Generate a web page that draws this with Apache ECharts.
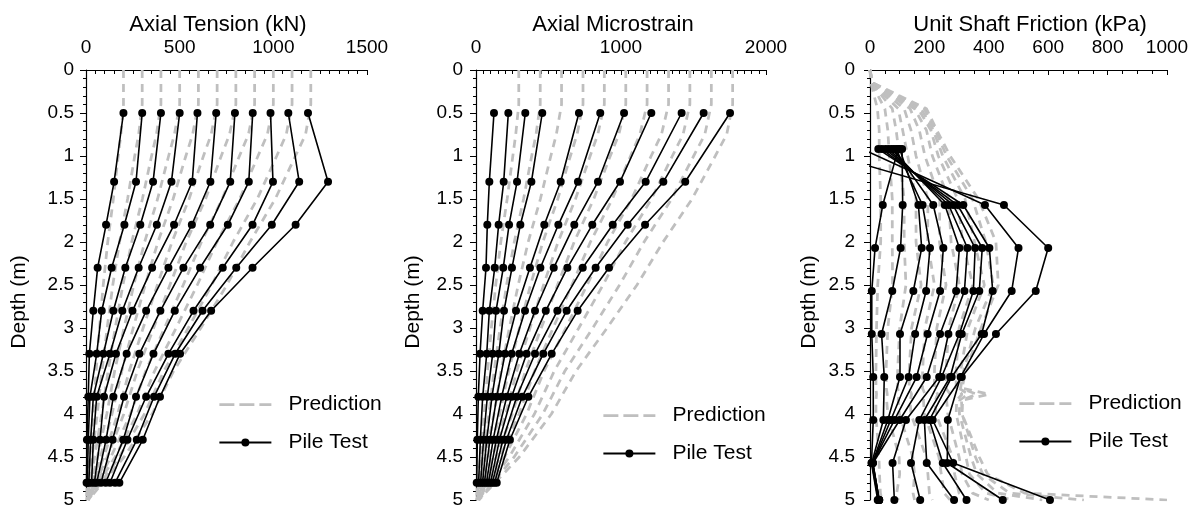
<!DOCTYPE html>
<html>
<head>
<meta charset="utf-8">
<title>Pile test vs prediction</title>
<script src="https://cdn.jsdelivr.net/npm/echarts@6/dist/echarts.min.js"></script>
<style>
  html, body { margin: 0; padding: 0; background: #fff; }
  #chart { width: 1196px; height: 509px; }
</style>
</head>
<body>
<div id="chart"></div>
<script>
// depths (m)
var gaugeDepth = [0.5, 1.3, 1.8, 2.3, 2.8, 3.3, 3.8, 4.3, 4.8];
var frictionDepth = [0.92, 1.57, 2.07, 2.57, 3.07, 3.57, 4.07, 4.57, 5.0];
var predDepth = [0, 0.4, 0.75, 1.0, 1.5, 2.0, 2.5, 3.0, 3.5, 4.0, 4.5, 5.0];
var predFrictionDepth = [0, 0.15, 0.45, 0.7, 1.0, 1.5, 2.0, 2.5, 3.0, 3.5, 3.7, 3.77, 3.84, 4.0, 4.5, 4.7, 4.92, 5.0];

// axial tension (kN), one row per load step
var tensionTest = [
  [200, 150, 107, 62, 39, 18, 12, 5, 3],
  [300, 267, 205, 137, 84, 57, 21, 12, 7],
  [400, 358, 290, 210, 146, 93, 39, 25, 15],
  [500, 456, 378, 281, 194, 128, 57, 39, 30],
  [595, 567, 470, 353, 248, 160, 96, 75, 45],
  [695, 664, 565, 440, 321, 217, 146, 107, 57],
  [795, 770, 663, 520, 397, 285, 203, 142, 80],
  [890, 869, 757, 609, 474, 360, 267, 199, 105],
  [985, 998, 889, 730, 574, 440, 321, 221, 128],
  [1080, 1138, 992, 802, 622, 476, 363, 271, 155],
  [1185, 1292, 1119, 889, 668, 502, 395, 303, 178]
];
var tensionPred = [
  [200, 200, 186, 172, 146, 116, 92, 72, 54, 38, 20, 2],
  [300, 300, 281, 260, 222, 179, 143, 113, 85, 60, 32, 3],
  [400, 400, 376, 350, 301, 244, 197, 156, 118, 84, 46, 4],
  [500, 500, 472, 441, 382, 313, 255, 203, 153, 111, 61, 5],
  [600, 600, 569, 533, 465, 384, 316, 252, 191, 139, 77, 6],
  [700, 700, 668, 627, 550, 459, 381, 305, 231, 169, 95, 8],
  [800, 800, 766, 722, 638, 535, 448, 361, 274, 202, 113, 9],
  [900, 900, 867, 819, 727, 616, 519, 419, 319, 237, 133, 10],
  [1000, 1000, 968, 918, 820, 699, 594, 481, 366, 273, 155, 11],
  [1100, 1100, 1069, 1018, 914, 785, 671, 546, 416, 312, 178, 12],
  [1200, 1200, 1172, 1118, 1010, 875, 752, 613, 468, 353, 203, 13]
];

// axial microstrain
var strainTest = [
  [124, 92, 78, 69, 46, 28, 16, 9, 5],
  [223, 191, 156, 129, 92, 74, 46, 30, 18],
  [340, 283, 228, 188, 138, 115, 78, 52, 32],
  [457, 382, 306, 248, 193, 157, 110, 74, 45],
  [710, 584, 471, 372, 276, 200, 143, 96, 58],
  [857, 703, 568, 444, 338, 246, 177, 118, 72],
  [1021, 841, 678, 536, 407, 299, 212, 140, 85],
  [1209, 993, 802, 630, 481, 349, 246, 162, 100],
  [1418, 1170, 943, 736, 561, 407, 281, 186, 113],
  [1570, 1292, 1046, 825, 625, 464, 319, 210, 128],
  [1752, 1443, 1166, 917, 701, 522, 361, 234, 143]
];
var strainPred = [
  [295, 295, 274, 254, 215, 171, 136, 106, 80, 56, 30, 3],
  [443, 443, 414, 384, 328, 264, 211, 166, 125, 89, 47, 4],
  [590, 590, 554, 516, 444, 360, 291, 230, 173, 124, 67, 6],
  [738, 738, 697, 651, 564, 461, 376, 299, 226, 163, 89, 7],
  [885, 885, 840, 787, 686, 566, 466, 372, 281, 205, 113, 9],
  [1033, 1033, 985, 926, 812, 677, 562, 450, 341, 250, 139, 11],
  [1180, 1180, 1130, 1066, 940, 789, 661, 532, 404, 297, 166, 13],
  [1328, 1328, 1279, 1208, 1073, 908, 766, 619, 470, 349, 197, 15],
  [1475, 1475, 1428, 1354, 1210, 1031, 876, 709, 540, 403, 229, 16],
  [1623, 1623, 1578, 1501, 1349, 1159, 990, 805, 613, 461, 263, 18],
  [1770, 1770, 1729, 1650, 1490, 1290, 1110, 904, 690, 520, 299, 19]
];

// unit shaft friction (kPa)
var frictionTest = [
  [95, 43, 17, 6, 6, 11, 11, 5, 26],
  [108, 110, 103, 75, 39, 48, 45, 6, 28],
  [100, 163, 174, 146, 101, 101, 60, 8, 30],
  [88, 177, 202, 189, 152, 130, 70, 9, 31],
  [80, 213, 247, 236, 194, 157, 82, 9, 31],
  [72, 252, 301, 290, 236, 191, 100, 10, 31],
  [62, 265, 328, 318, 264, 233, 121, 76, 82],
  [52, 280, 354, 348, 301, 241, 166, 138, 169],
  [40, 295, 378, 368, 309, 270, 183, 191, 283],
  [28, 314, 402, 413, 376, 275, 200, 245, 325],
  [-25, 387, 500, 477, 384, 305, 262, 260, 447],
  [-200, 451, 600, 558, 424, 309, 211, 280, 606]
];
var frictionPred = [
  [0, 3, 25, 31, 31, 36, 36, 26, 22, 20, 20, 22, 20, 20, 30, 32, 35, 40],
  [0, 4, 50, 60, 65, 75, 75, 76, 60, 54, 55, 58, 56, 60, 98, 100, 90, 95],
  [0, 5, 75, 88, 99, 115, 115, 121, 100, 93, 93, 98, 95, 99, 144, 150, 145, 150],
  [0, 5, 95, 110, 127, 155, 155, 172, 140, 132, 132, 140, 135, 138, 189, 195, 200, 210],
  [0, 6, 115, 138, 155, 195, 194, 217, 185, 177, 177, 185, 180, 183, 232, 240, 250, 270],
  [0, 6, 135, 166, 185, 235, 234, 256, 225, 217, 217, 228, 220, 222, 278, 285, 300, 330],
  [0, 7, 150, 190, 210, 265, 273, 301, 265, 256, 256, 270, 258, 262, 300, 310, 345, 400],
  [0, 7, 162, 205, 230, 295, 312, 346, 300, 290, 290, 310, 292, 290, 323, 335, 390, 480],
  [0, 8, 172, 213, 245, 320, 352, 385, 330, 305, 300, 330, 302, 301, 340, 360, 430, 580],
  [0, 8, 182, 220, 258, 345, 390, 415, 355, 315, 305, 360, 308, 310, 355, 380, 470, 720],
  [0, 10, 190, 225, 270, 365, 424, 432, 374, 322, 310, 400, 312, 310, 368, 396, 520, 1000]
];

// axis ranges [min, max, label step, minor divisions]
var tensionAxis = [0, 1500, 500, 10];
var strainAxis = [0, 2000, 1000, 20];
var frictionAxis = [0, 1000, 200, 4];
var depthAxis = [0, 5, 0.5, 5];

var titles = ['Axial Tension (kN)', 'Axial Microstrain', 'Unit Shaft Friction (kPa)'];

var FONT = 'Liberation Sans, Arial, sans-serif';
var PRED_GREY = '#bfbfbf';

function pairs(xs, depths) {
  return xs.map(function (v, i) { return [v, depths[i]]; });
}

function predSeries(rows, depths, idx) {
  return rows.map(function (r) {
    return {
      name: 'Prediction', type: 'line', xAxisIndex: idx, yAxisIndex: idx,
      data: pairs(r, depths), symbol: 'none', color: PRED_GREY,
      lineStyle: { color: PRED_GREY, width: 2.75, type: [8, 6] },
      z: 2, silent: true, animation: false
    };
  });
}

function testSeries(rows, depths, idx) {
  return rows.map(function (r) {
    return {
      name: 'Pile Test', type: 'line', xAxisIndex: idx, yAxisIndex: idx,
      data: pairs(r, depths), symbol: 'circle', symbolSize: 8, color: '#000',
      itemStyle: { color: '#000' },
      lineStyle: { color: '#000', width: 1.6 },
      z: 3, silent: true, animation: false
    };
  });
}

function xAxisOf(idx, ax, margin) {
  return {
    gridIndex: idx, type: 'value', position: 'top',
    min: ax[0], max: ax[1], interval: ax[2],
    axisLine: { show: true, onZero: false, lineStyle: { color: '#000', width: 1.2 } },
    axisTick: { show: true, inside: true, length: 5, lineStyle: { color: '#000' } },
    minorTick: { show: true, splitNumber: ax[3], length: 4, lineStyle: { color: '#000' } },
    axisLabel: { color: '#000', fontSize: 19, fontFamily: FONT, margin: margin,
      formatter: function (v) { return String(v); } },
    splitLine: { show: false }
  };
}

function yAxisOf(idx, gap, margin) {
  return {
    gridIndex: idx, type: 'value', inverse: true,
    min: depthAxis[0], max: depthAxis[1], interval: depthAxis[2],
    name: 'Depth (m)', nameLocation: 'middle', nameRotate: 90, nameGap: gap,
    nameTextStyle: { color: '#000', fontSize: 21, fontFamily: FONT, padding: [0, 34, 0, 0] },
    axisLine: { show: true, onZero: false, lineStyle: { color: '#000', width: 1.2 } },
    axisTick: { show: true, length: 6, lineStyle: { color: '#000' } },
    minorTick: { show: true, splitNumber: depthAxis[3], length: 3, lineStyle: { color: '#000' } },
    axisLabel: { color: '#000', fontSize: 19, fontFamily: FONT, margin: margin,
      formatter: function (v) { return String(v); } },
    splitLine: { show: false }
  };
}

function legendAt(left, top) {
  return {
    orient: 'vertical', left: left, top: top, padding: 0,
    itemWidth: 52, itemHeight: 10, itemGap: 17, selectedMode: false,
    textStyle: { color: '#000', fontSize: 21, fontFamily: FONT, padding: [0, 0, 0, 12] },
    data: [
      { name: 'Prediction', itemStyle: { opacity: 0 }, lineStyle: { type: [15, 5], width: 2.75, color: PRED_GREY } },
      { name: 'Pile Test' }
    ]
  };
}

var chart = echarts.init(document.getElementById('chart'));

chart.setOption({
  animation: false,
  backgroundColor: '#fff',
  textStyle: { fontFamily: FONT },
  title: [
    { text: titles[0], left: 218, top: 14, textAlign: 'center', padding: 0,
      textStyle: { fontSize: 22, fontWeight: 'normal', color: '#000', fontFamily: FONT } },
    { text: titles[1], left: 613, top: 14, textAlign: 'center', padding: 0,
      textStyle: { fontSize: 22, fontWeight: 'normal', color: '#000', fontFamily: FONT } },
    { text: titles[2], left: 1030, top: 14, textAlign: 'center', padding: 0,
      textStyle: { fontSize: 22, fontWeight: 'normal', color: '#000', fontFamily: FONT } }
  ],
  legend: [legendAt(218, 394), legendAt(602, 405), legendAt(1018, 393)],
  grid: [
    { left: 86, top: 70, width: 281, height: 430, outerBoundsMode: 'none' },
    { left: 476, top: 70, width: 290, height: 430, outerBoundsMode: 'none' },
    { left: 870, top: 70, width: 297, height: 430, outerBoundsMode: 'none' }
  ],
  xAxis: [xAxisOf(0, tensionAxis, 13), xAxisOf(1, strainAxis, 13), xAxisOf(2, frictionAxis, 13)],
  yAxis: [yAxisOf(0, 56, 12), yAxisOf(1, 52, 13), yAxisOf(2, 50, 15)],
  series: [].concat(
    predSeries(tensionPred, predDepth, 0),
    testSeries(tensionTest, gaugeDepth, 0),
    predSeries(strainPred, predDepth, 1),
    testSeries(strainTest, gaugeDepth, 1),
    predSeries(frictionPred, predFrictionDepth, 2),
    testSeries(frictionTest, frictionDepth, 2)
  )
});
</script>
</body>
</html>
